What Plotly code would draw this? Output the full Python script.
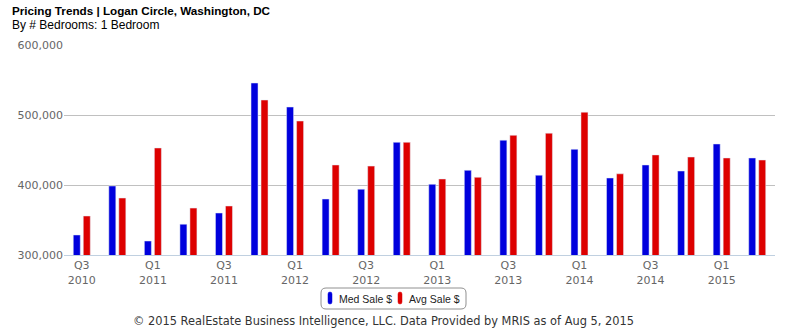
import plotly.graph_objects as go

quarters = ["Q3 2010", "Q4 2010", "Q1 2011", "Q2 2011", "Q3 2011", "Q4 2011",
            "Q1 2012", "Q2 2012", "Q3 2012", "Q4 2012", "Q1 2013", "Q2 2013",
            "Q3 2013", "Q4 2013", "Q1 2014", "Q2 2014", "Q3 2014", "Q4 2014",
            "Q1 2015", "Q2 2015"]
med_sale = [328600, 398600, 320000, 344000, 360000, 545700, 511400, 380000, 394000, 461000,
            401000, 421000, 464000, 414000, 451000, 410000, 428600, 420000, 458600, 438600]
avg_sale = [355700, 381400, 452900, 367000, 370000, 521400, 491400, 428600, 427000, 461000,
            408600, 411000, 471000, 474000, 504000, 416000, 443000, 440000, 438600, 435700]
tick_vals = ["Q3 2010", "Q1 2011", "Q3 2011", "Q1 2012", "Q3 2012", "Q1 2013",
             "Q3 2013", "Q1 2014", "Q3 2014", "Q1 2015"]
tick_text = [q.replace(" ", "<br>") for q in tick_vals]
y_ticks = [300000, 400000, 500000, 600000]
series_names = ["Med Sale $", "Avg Sale $"]

BLUE = "#0000DD"
RED = "#DD0000"
W, H = 785, 330
L, R, T, B = 64, 10, 45, 75
pw, ph = W - L - R, H - T - B

fig = go.Figure()
fig.add_trace(go.Bar(x=quarters, y=med_sale, name=series_names[0], marker_color=BLUE,
                     showlegend=False, base=0))
fig.add_trace(go.Bar(x=quarters, y=avg_sale, name=series_names[1], marker_color=RED,
                     showlegend=False, base=0))

def px_x(p):
    return (p - L) / pw

def px_y(p):
    return (H - B - p) / ph

def rounded_rect(xa, ya, xb, yb, r):
    x0, x1 = px_x(xa), px_x(xb)
    y1, y0 = px_y(ya), px_y(yb)
    rx = r / pw
    ry = r / ph
    return (f"M {x0+rx},{y1} L {x1-rx},{y1} Q {x1},{y1} {x1},{y1-ry} "
            f"L {x1},{y0+ry} Q {x1},{y0} {x1-rx},{y0} L {x0+rx},{y0} "
            f"Q {x0},{y0} {x0},{y0+ry} L {x0},{y1-ry} Q {x0},{y1} {x0+rx},{y1} Z")

fig.update_layout(
    width=W, height=H,
    margin=dict(l=L, r=R, t=T, b=B, autoexpand=False),
    plot_bgcolor="white", paper_bgcolor="white",
    barmode="group", bargap=0.437, bargroupgap=0.3,
    font=dict(family="DejaVu Sans", size=11, color="#666666"),
    xaxis=dict(type="category", categoryorder="array", categoryarray=quarters,
               tickmode="array", tickvals=tick_vals, ticktext=tick_text,
               showgrid=False, showline=True, linecolor="#C0D0E0", linewidth=1,
               ticks="", tickfont=dict(family="DejaVu Sans", size=11, color="#666666"),
               range=[-0.5, len(quarters) - 0.5], automargin=False),
    yaxis=dict(range=[300000, 600000], tickvals=y_ticks,
               tickformat=",d", showgrid=True, gridcolor="#C0C0C0", gridwidth=1,
               zeroline=False, showline=False, ticks="", automargin=False,
               tickfont=dict(family="DejaVu Sans", size=11, color="#666666")),
    showlegend=False,
)

# legend drawn by hand (rounded box, rounded symbols)
fig.add_shape(type="path", path=rounded_rect(321, 288, 466, 309, 5), xref="paper", yref="paper",
              line=dict(color="#909090", width=1), fillcolor="rgba(0,0,0,0)")
for (sx, tx), col, nm in zip([(328, 337), (398, 407)], [BLUE, RED], series_names):
    fig.add_shape(type="path", path=rounded_rect(sx, 292, sx + 4, 304, 2), xref="paper", yref="paper",
                  line=dict(color=col, width=0.5), fillcolor=col)
    fig.add_annotation(text=nm, xref="paper", yref="paper", x=px_x(tx), y=px_y(298.5),
                       xanchor="left", yanchor="middle", showarrow=False,
                       font=dict(family="Liberation Sans", size=10.5, color="#222222"))

fig.add_annotation(text="<b>Pricing Trends | Logan Circle, Washington, DC</b>",
                   xref="paper", yref="paper", x=px_x(10), y=px_y(11),
                   xanchor="left", yanchor="middle", showarrow=False,
                   font=dict(family="Liberation Sans", size=11.7, color="#000000"))
fig.add_annotation(text="By # Bedrooms: 1 Bedroom",
                   xref="paper", yref="paper", x=px_x(10), y=px_y(25),
                   xanchor="left", yanchor="middle", showarrow=False,
                   font=dict(family="Liberation Sans", size=12, color="#000000"))
fig.add_annotation(text="© 2015 RealEstate Business Intelligence, LLC. Data Provided by MRIS as of Aug 5, 2015",
                   xref="paper", yref="paper", x=px_x(383), y=px_y(321),
                   xanchor="center", yanchor="middle", showarrow=False,
                   font=dict(family="DejaVu Sans", size=11.4, color="#333333"))

fig.write_html("out.html")
